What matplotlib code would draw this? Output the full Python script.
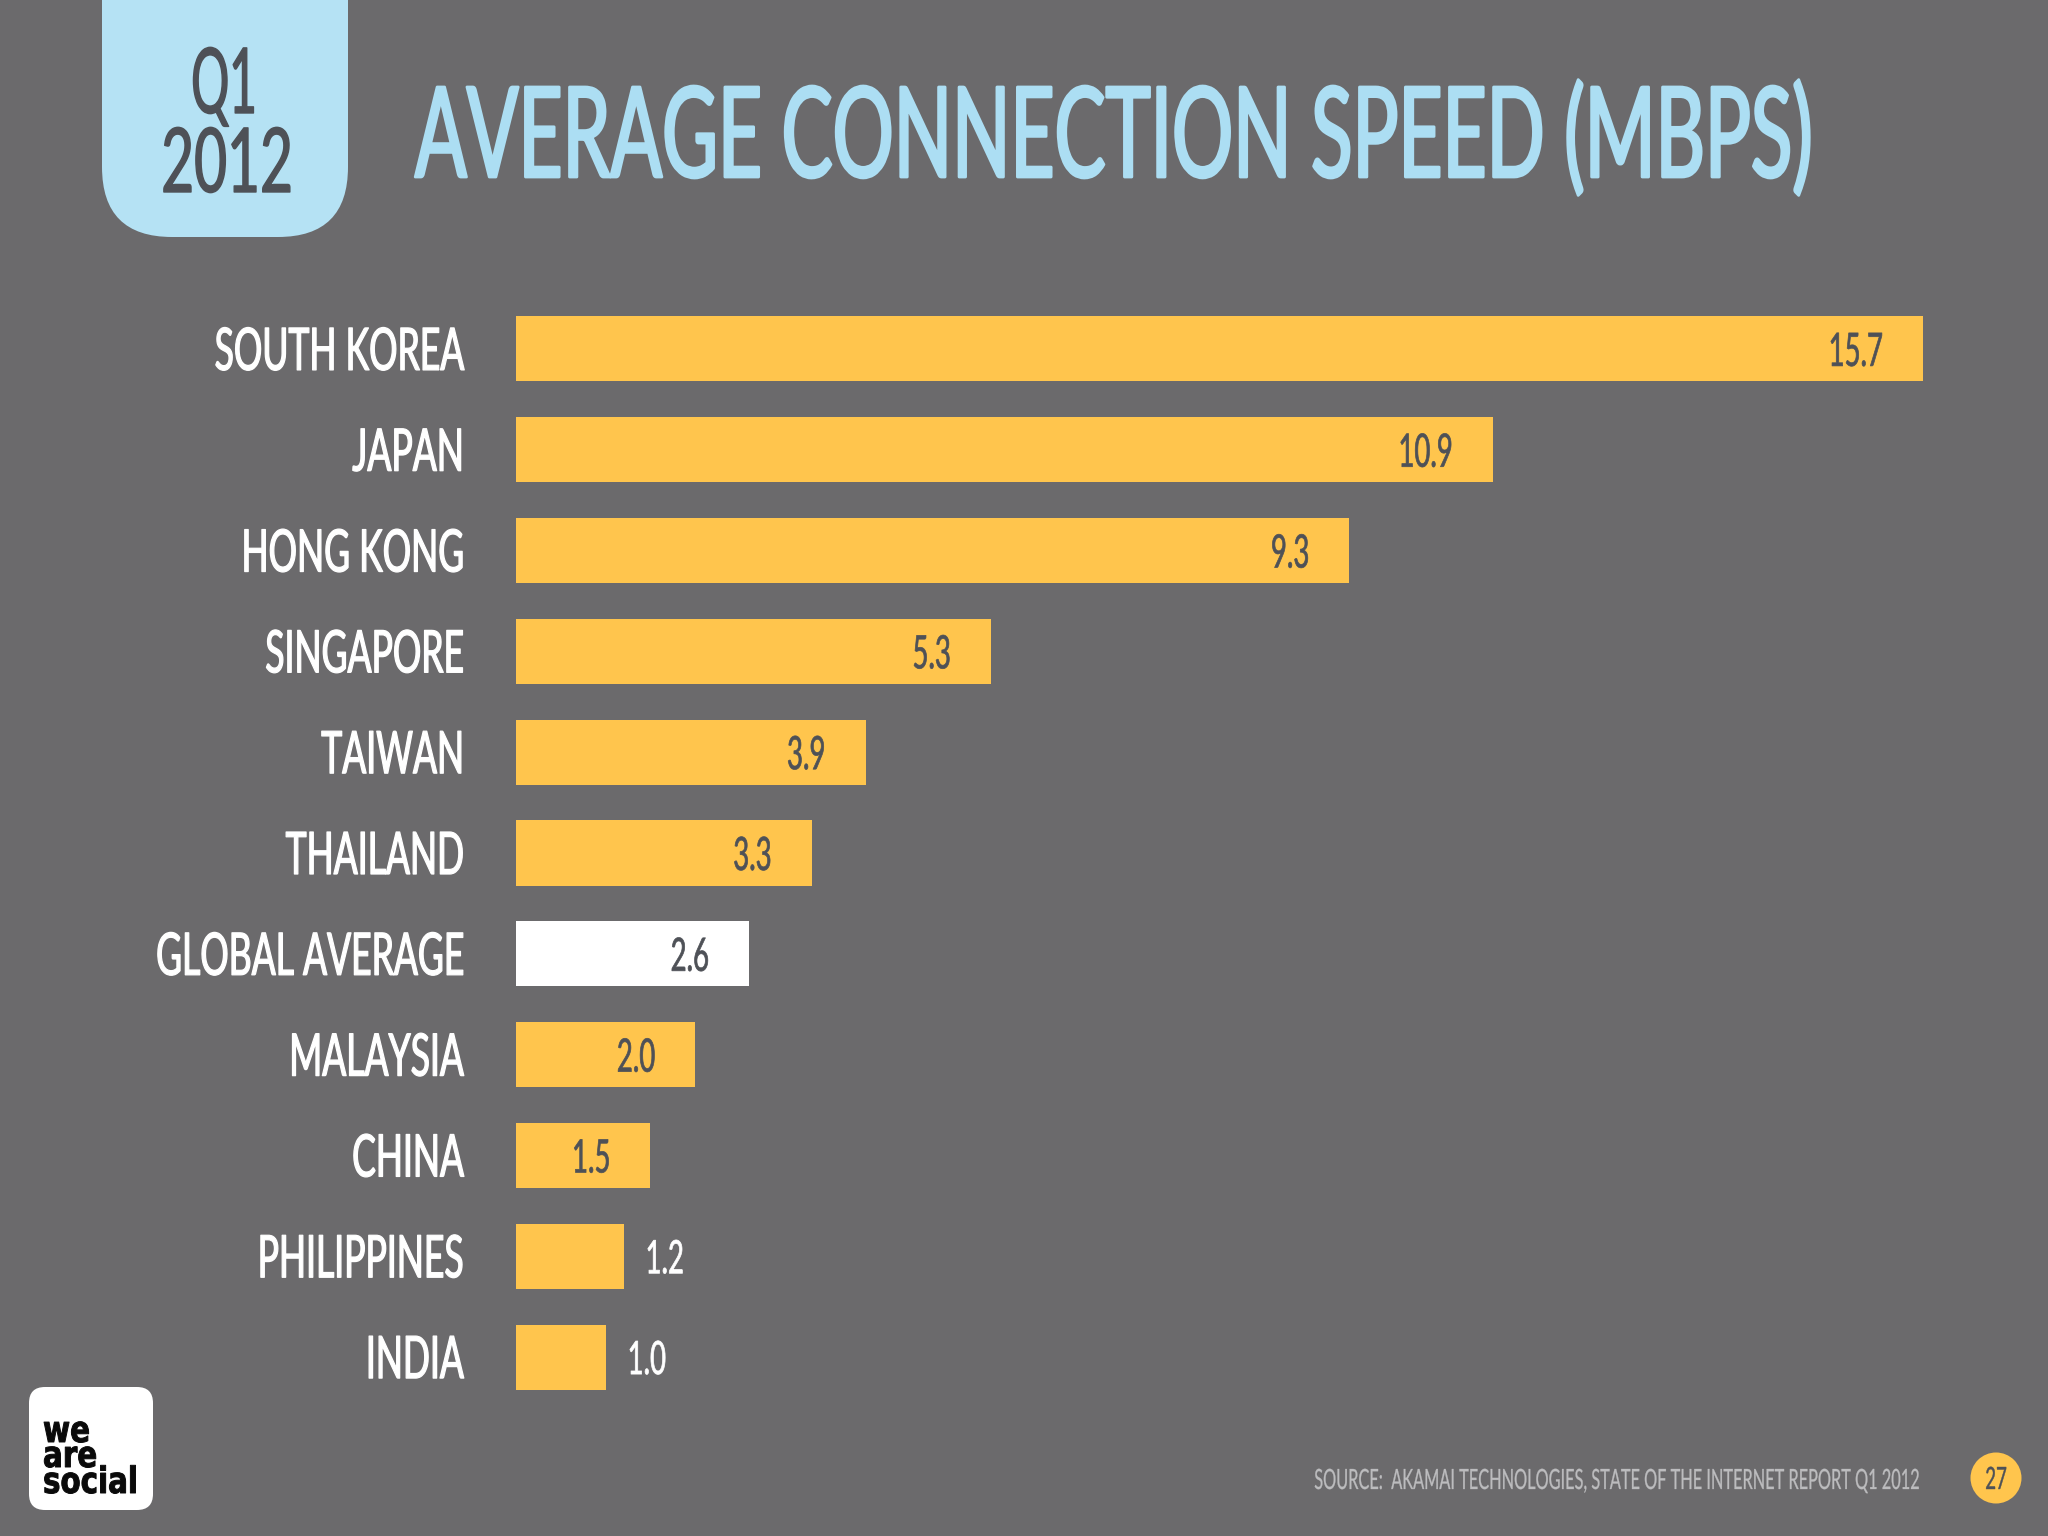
import matplotlib
matplotlib.use("Agg")
import matplotlib.pyplot as plt
from matplotlib.patches import FancyBboxPatch, Circle
from matplotlib.patheffects import AbstractPathEffect
from matplotlib.textpath import TextPath
from matplotlib.font_manager import FontProperties
from matplotlib.transforms import Affine2D

countries = ["SOUTH KOREA", "JAPAN", "HONG KONG", "SINGAPORE", "TAIWAN", "THAILAND",
             "GLOBAL AVERAGE", "MALAYSIA", "CHINA", "PHILIPPINES", "INDIA"]
speeds = [15.7, 10.9, 9.3, 5.3, 3.9, 3.3, 2.6, 2.0, 1.5, 1.2, 1.0]
value_labels = ["15.7", "10.9", "9.3", "5.3", "3.9", "3.3", "2.6", "2.0", "1.5", "1.2", "1.0"]
highlight = "GLOBAL AVERAGE"
title = "AVERAGE CONNECTION SPEED (MBPS)"
source = "SOURCE:  AKAMAI TECHNOLOGIES, STATE OF THE INTERNET REPORT Q1 2012"

FONT = "Lato"
BG = "#6b6a6c"; BAR = "#ffc54d"; BLUE = "#b5e2f4"; TITLE = "#acdef3"; DARK = "#4e5157"; GREY = "#bcbcbe"
W, H = 2048, 1536
PT = 0.72  # points per output pixel at dpi=100


class Stretch(AbstractPathEffect):
    """Tall, narrow lettering: scale glyphs vertically about their baseline, optionally emboldened."""
    def __init__(self, sy, dy=0, bold=0):
        super().__init__()
        self.sy, self.dy, self.bold = sy, dy, bold

    def draw_path(self, renderer, gc, tpath, affine, rgbFace=None):
        tr = Affine2D().scale(1, self.sy) + affine + Affine2D().translate(0, self.dy)
        gc0 = renderer.new_gc()
        gc0.copy_properties(gc)
        gc0.set_linewidth(self.bold)
        if self.bold and rgbFace is not None:
            gc0.set_foreground(rgbFace)
        renderer.draw_path(gc0, tpath, tr, rgbFace)
        gc0.restore()


def fit(text, width_px, height_px, family=FONT, weight="normal", ref="H"):
    fp = FontProperties(family=family, weight=weight)
    w100 = TextPath((0, 0), text, size=100, prop=fp).get_extents().width
    h100 = TextPath((0, 0), ref, size=100, prop=fp).get_extents().height
    pts = 100 * width_px * PT / w100
    sy = height_px * PT / (h100 * pts / 100)
    return pts, sy


fig = plt.figure(figsize=(20.48, 15.36), dpi=100, facecolor=BG)

ov = fig.add_axes([0, 0, 1, 1]); ov.set_xlim(0, W); ov.set_ylim(H, 0); ov.axis("off")


def put(x, y, s, color, width, height, ha="left", family=FONT, weight="normal", ref="H",
        fit_text=None, bold=0):
    pts, sy = fit(fit_text or s, width, height, family, weight, ref)
    ov.text(x, y, s, color=color, fontsize=pts, family=family, weight=weight, ha=ha,
            va="baseline", path_effects=[Stretch(sy, bold=bold)])


ov.add_patch(FancyBboxPatch((102, -120), 246, 357, boxstyle="round,pad=0,rounding_size=70",
                            fc=BLUE, ec="none"))
put(224, 113, "Q1", DARK, 60, 65, ha="center", bold=1.0)
put(227, 192, "2012", DARK, 126, 64, ha="center", bold=1.0)
put(415, 177, title, TITLE, 1394, 90, bold=2.0)

ov.add_patch(FancyBboxPatch((29, 1387), 124, 123, boxstyle="round,pad=0,rounding_size=16",
                            fc="white", ec="none"))
for yy, s in zip((1442, 1467, 1493), ("we", "are", "social")):
    put(43, yy, s, "#0a0a0a", 91, 27.7, family="DejaVu Sans", weight="bold", ref="l",
        fit_text="social", bold=0.7)

put(1922, 1489, source, GREY, 604, 20, ha="right", bold=0.2)
ov.add_patch(Circle((1996, 1478), 25.5, fc=BAR, ec="none"))
put(1996, 1489, "27", DARK, 20, 22, ha="center", bold=0.3)

# chart: plot area spans the bar baseline to the longest bar, one band per country
L, R, T, B = 516, 1923, 298.5, 1407.5
ax = fig.add_axes([L / W, 1 - B / H, (R - L) / W, (B - T) / H])
ax.patch.set_alpha(0)
colors = ["white" if c == highlight else BAR for c in countries]
pos = list(range(len(countries)))
ax.barh(pos, speeds, height=0.645, color=colors)
ax.set_xlim(0, 15.7); ax.set_ylim(len(countries) - 0.5, -0.5)
ax.set_xticks([])
ax.set_yticks(pos, countries)
lab_pts, lab_sy = fit("GLOBAL AVERAGE", 305, 42)
ax.tick_params(axis="y", length=0, pad=52 * PT, labelcolor="white", labelsize=lab_pts)
for t in ax.get_yticklabels():
    t.set_family(FONT)
    t.set_verticalalignment("baseline")
    t.set_path_effects([Stretch(lab_sy, dy=-21, bold=0.9)])
for s in ax.spines.values():
    s.set_visible(False)

val_pts, val_sy = fit("15.7", 51, 33)
for p, v, lab in zip(pos, speeds, value_labels):
    inside = v >= 1.5
    ax.annotate(lab, (v, p), xytext=(-40 * PT if inside else 22 * PT, -17 * PT),
                textcoords="offset points", ha="right" if inside else "left", va="baseline",
                color=DARK if inside else "white", fontsize=val_pts, family=FONT,
                path_effects=[Stretch(val_sy, bold=0.5)])
fig.savefig("out.png", dpi=100, facecolor=BG)
